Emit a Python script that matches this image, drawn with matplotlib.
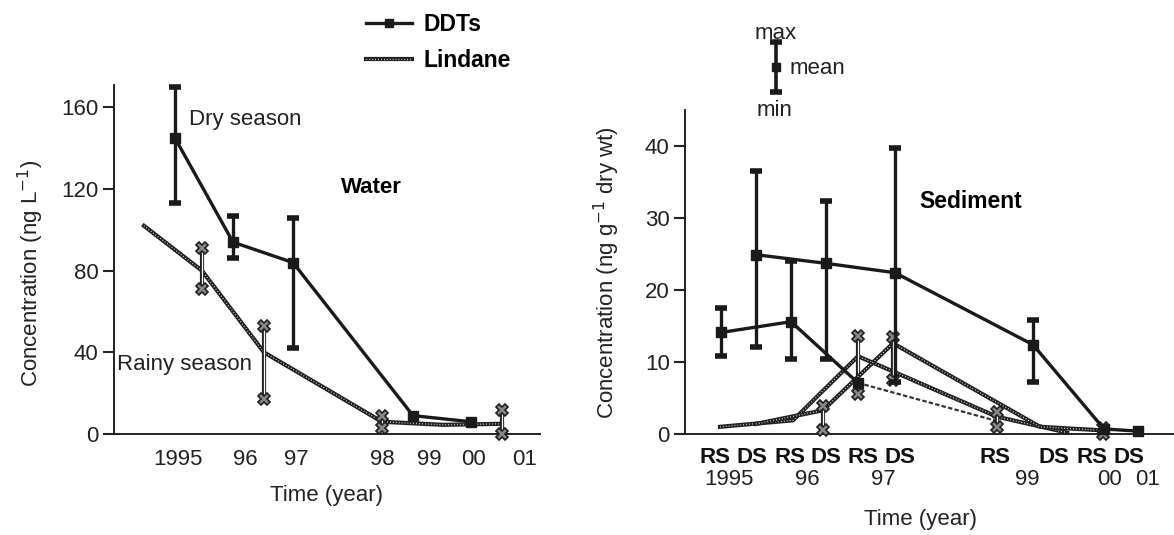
import numpy as np
import matplotlib
matplotlib.use('Agg')
import matplotlib.pyplot as plt

plt.rcParams['font.family'] = ['Liberation Sans', 'DejaVu Sans']
plt.rcParams['font.size'] = 16

nan = np.nan

# ---- water panel (x in drawing units of the hand made time axis)
w_tick_pos = [6.4, 13.1, 18.2, 26.8, 31.5, 36.0, 41.1]
w_tick_lab = ['1995', '96', '97', '98', '99', '00', '01']

w_ddt_x = [6.1, 11.9, 17.9, 29.9, 35.7]
w_ddt_y = [145, 94, 84, 9, 6]
w_ddt_lo = [113, 86, 42, nan, nan]
w_ddt_hi = [170, 107, 106, nan, nan]

w_lin_x = [3.0, 8.8, 15.0, 26.8, 32.9, 38.8]
w_lin_y = [102, 80, 40, 6, 4.5, 5]
w_lin_lo = [nan, 71, 17, 3, nan, 0]
w_lin_hi = [nan, 91, 53, 9, nan, 12]

# ---- sediment panel
s_season_pos = [3.0, 6.7, 10.5, 14.1, 17.8, 21.5, 31.0, 36.9, 40.7, 44.4]
s_season_lab = ['RS', 'DS', 'RS', 'DS', 'RS', 'DS', 'RS', 'DS', 'RS', 'DS']
s_year_pos = [4.4, 12.2, 19.8, 34.2, 42.5, 46.3]
s_year_lab = ['1995', '96', '97', '99', '00', '01']

s_ddt_rs_x = [3.6, 10.6, 17.3]
s_ddt_rs_y = [14.1, 15.6, 7.1]
s_ddt_rs_lo = [10.9, 10.4, nan]
s_ddt_rs_hi = [17.5, 24.0, nan]
s_ddt_rs2_x = [17.3, 31.2]
s_ddt_rs2_y = [7.1, 1.8]

s_ddt_ds_x = [7.1, 14.1, 21.0, 34.8, 41.9, 45.3]
s_ddt_ds_y = [24.9, 23.7, 22.4, 12.4, 0.7, 0.4]
s_ddt_ds_lo = [12.1, 10.4, 7.2, 7.2, nan, nan]
s_ddt_ds_hi = [36.5, 32.3, 39.7, 15.9, nan, nan]

s_lin_rs_x = [3.5, 10.8, 17.3, 31.2, 38.2]
s_lin_rs_y = [1.0, 1.9, 10.8, 2.4, 0.2]
s_lin_rs_lo = [nan, nan, 5.5, 1.0, nan]
s_lin_rs_hi = [nan, nan, 13.6, 3.0, nan]

s_lin_ds_x = [7.1, 13.8, 20.8, 35.5, 41.8]
s_lin_ds_y = [1.4, 3.3, 12.6, 1.0, 0.5]
s_lin_ds_lo = [nan, 0.6, 7.5, nan, 0.0]
s_lin_ds_hi = [nan, 3.9, 13.5, nan, 0.9]

DARK = '#1a1a1a'
CHECK = (0, (0.5, 1.6))


def bars(x, y, lo, hi):
    x, y, lo, hi = map(np.asarray, (x, y, lo, hi))
    ok = ~np.isnan(lo)
    return x[ok], y[ok], np.vstack([y[ok] - lo[ok], hi[ok] - y[ok]])


def ddt(ax, x, y, lo, hi):
    ln, = ax.plot(x, y, color=DARK, lw=2.4, marker='s', ms=6.5,
                  clip_on=False, zorder=4)
    bx, by, be = bars(x, y, lo, hi)
    ax.errorbar(bx, by, yerr=be, fmt='none', ecolor=DARK, elinewidth=2.4,
                capsize=4.5, capthick=4, clip_on=False, zorder=4)
    return ln


def lindane(ax, x, y, lo, hi):
    base, = ax.plot(x, y, color='#202020', lw=3.0, clip_on=False, zorder=3)
    dots, = ax.plot(x, y, color='white', lw=1.0, ls=CHECK,
                    clip_on=False, zorder=3)
    bx, by, be = bars(x, y, lo, hi)
    if len(bx):
        ax.errorbar(bx, by, yerr=be, fmt='none', ecolor='#202020',
                    elinewidth=3, clip_on=False, zorder=3)
        ax.errorbar(bx, by, yerr=be, fmt='none', ecolor='white',
                    elinewidth=0.9, ls=CHECK, clip_on=False, zorder=3)
        for ends in (by - be[0], by + be[1]):
            ax.plot(bx, ends, 'X', color='#202020', mfc='#888888', ms=8,
                    mew=1.2, clip_on=False, zorder=3)
    return base, dots


def style(ax):
    for s in ['top', 'right']:
        ax.spines[s].set_visible(False)
    for s in ['left', 'bottom']:
        ax.spines[s].set_linewidth(1.4)
        ax.spines[s].set_color('#222222')
    ax.tick_params(axis='y', length=8, width=1.5, pad=3, colors='#222222',
                   labelsize=16)
    ax.tick_params(axis='x', length=0, labelsize=16, colors='#222222')


fig = plt.figure(figsize=(11.74, 5.35), dpi=100)

# water
ax1 = fig.add_axes([114 / 1174, 101 / 535, 426 / 1174, 349 / 535])
style(ax1)
ax1.set_xlim(0, 42.6)
ax1.set_ylim(0, 171)
ax1.set_yticks([0, 40, 80, 120, 160])
ax1.set_xticks(w_tick_pos, w_tick_lab)
ax1.tick_params(axis='x', pad=11)
h_ddt = ddt(ax1, w_ddt_x, w_ddt_y, w_ddt_lo, w_ddt_hi)
h_lin = lindane(ax1, w_lin_x, w_lin_y, w_lin_lo, w_lin_hi)
ax1.text(7.5, 154, 'Dry season', fontsize=16, va='center', color='#222222')
ax1.text(0.3, 34, 'Rainy season', fontsize=16, va='center', color='#222222')
ax1.text(22.7, 121, 'Water', fontsize=16, fontweight='bold', va='center')
fig.text(31 / 1174, 1 - 273 / 535, 'Concentration (ng L$^{-1}$)', rotation=90,
         ha='center', va='center', fontsize=16, color='#222222')
fig.text(327 / 1174, 1 - 495 / 535, 'Time (year)', ha='center', va='center',
         fontsize=16, color='#222222')

# sediment
ax2 = fig.add_axes([685 / 1174, 101 / 535, 495 / 1174, 324 / 535])
style(ax2)
ax2.set_xlim(0, 49.5)
ax2.set_ylim(0, 45)
ax2.set_yticks([0, 10, 20, 30, 40])
ax2.set_xticks(s_year_pos, s_year_lab)
ax2.tick_params(axis='x', pad=25)
for p, t in zip(s_season_pos, s_season_lab):
    ax2.text(p, -0.074, t, transform=ax2.get_xaxis_transform(), ha='center',
             va='center', fontsize=16, fontweight='bold', color='#111111')
ddt(ax2, s_ddt_rs_x, s_ddt_rs_y, s_ddt_rs_lo, s_ddt_rs_hi)
ax2.plot(s_ddt_rs2_x, s_ddt_rs2_y, color='#333333', lw=1.6, ls=(0, (2, 1)),
         zorder=3)
ddt(ax2, s_ddt_ds_x, s_ddt_ds_y, s_ddt_ds_lo, s_ddt_ds_hi)
lindane(ax2, s_lin_rs_x, s_lin_rs_y, s_lin_rs_lo, s_lin_rs_hi)
lindane(ax2, s_lin_ds_x, s_lin_ds_y, s_lin_ds_lo, s_lin_ds_hi)
ax2.text(23.4, 32.3, 'Sediment', fontsize=16.5, fontweight='bold', va='center')
fig.text(607 / 1174, 1 - 273 / 535, 'Concentration (ng g$^{-1}$ dry wt)',
         rotation=90, ha='center', va='center', fontsize=16, color='#222222')
fig.text(920 / 1174, 1 - 519 / 535, 'Time (year)', ha='center', va='center',
         fontsize=16, color='#222222')

# legend
fig.legend([h_ddt, h_lin], ['DDTs', 'Lindane'], loc='upper left',
           bbox_to_anchor=(366 / 1174, 1 - 13 / 535), frameon=False,
           borderpad=0, borderaxespad=0, handlelength=2.0, handletextpad=0.5,
           labelspacing=0.55, markerscale=0.9,
           prop={'weight': 'bold', 'size': 16.5})

# max / mean / min key
key = fig.add_axes([766 / 1174, 1 - 92 / 535, 20 / 1174, 50 / 535])
key.axis('off')
key.set_xlim(-1, 1)
key.set_ylim(-1, 1)
key.errorbar([0], [0], yerr=[1], fmt='s', color=DARK, ms=6, elinewidth=2.6,
             capsize=4.5, capthick=4, clip_on=False)
key.text(0, 1.34, 'max', ha='center', va='center', fontsize=16, color='#222222')
key.text(1.4, -0.04, 'mean', ha='left', va='center', fontsize=16, color='#222222')
key.text(-0.1, -1.72, 'min', ha='center', va='center', fontsize=16, color='#222222')

fig.savefig('out.png', dpi=100)
